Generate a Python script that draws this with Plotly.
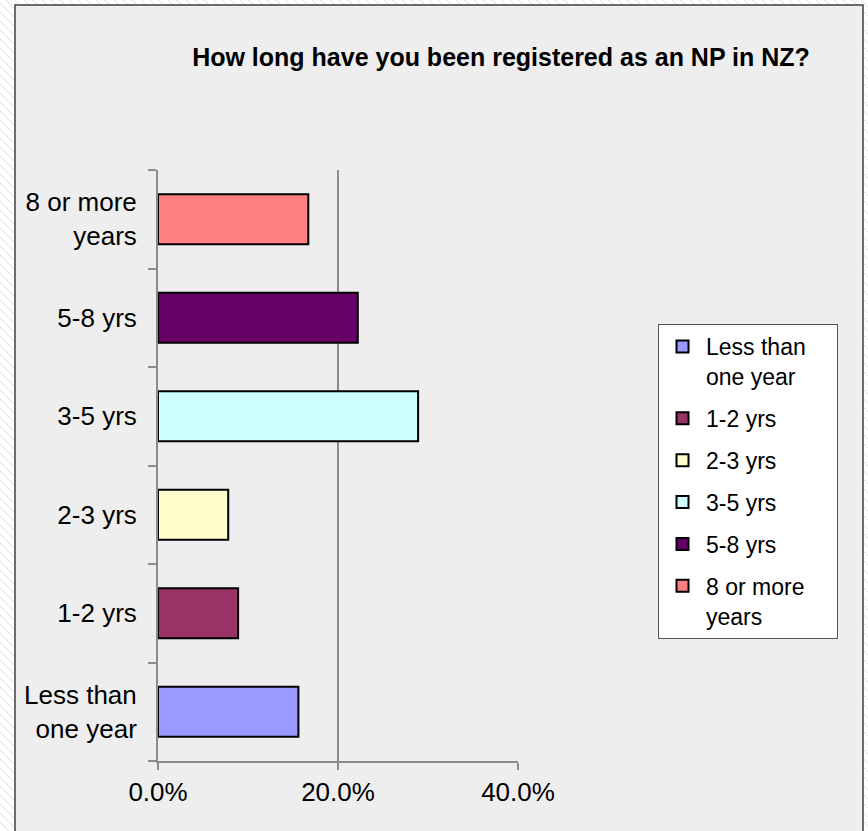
import plotly.graph_objects as go

# ---- data ----
categories = ["Less than<br>one year", "1-2 yrs", "2-3 yrs", "3-5 yrs", "5-8 yrs", "8 or more<br>years"]
legend_names = ["Less than\u00a0\u00a0\u00a0\u00a0<br>one year", "1-2 yrs", "2-3 yrs", "3-5 yrs", "5-8 yrs", "8 or more<br>years"]
percent_values = [15.6, 8.9, 7.8, 28.9, 22.2, 16.7]
bar_colors = ["#9999FF", "#993366", "#FFFFCC", "#CCFFFF", "#660066", "#FF8080"]
x_tick_vals = [0, 20, 40]
x_tick_text = ["0.0%", "20.0%", "40.0%"]
title_text = "How long have you been registered as an NP in NZ?"

W, H = 868, 831
L, R, T, B = 158, 350, 170, 70
pw, ph = W - L - R, H - T - B

def px_x(p):
    return (p - L) / pw

def px_y(p):
    return (H - B - p) / ph

fig = go.Figure()
for cat, name, val, col in zip(categories, legend_names, percent_values, bar_colors):
    fig.add_trace(go.Bar(
        x=[val], y=[cat], orientation="h", name=name, legendgroup=name,
        marker=dict(color=col, line=dict(color="black", width=2)),
        hoverinfo="x+y",
    ))

# decorative hatched background + frame
segs = []
step = 9
x = -H
while x < W + H:
    segs.append(f"M{px_x(x)},{px_y(0)} L{px_x(x + H)},{px_y(H)}")
    x += step
shapes = [
    dict(type="path", path=" ".join(segs), xref="paper", yref="paper",
         line=dict(color="#dcdcdc", width=1), layer="below"),
    dict(type="rect", xref="paper", yref="paper",
         x0=px_x(15), x1=px_x(863), y0=px_y(840), y1=px_y(5),
         fillcolor="#eeeeee", line=dict(color="#404040", width=1.5), layer="below"),
]

fig.update_layout(
    width=W, height=H,
    margin=dict(l=L, r=R, t=T, b=B),
    paper_bgcolor="white",
    plot_bgcolor="rgba(0,0,0,0)",
    barmode="overlay",
    bargap=0.49,
    font=dict(family="Liberation Sans, Arial, sans-serif", color="black", size=26),
    title=dict(text=title_text, x=px_x(501), xref="paper", xanchor="center",
               y=1 - 57 / H, yref="container", yanchor="middle",
               font=dict(size=25, color="black", family="Liberation Sans, Arial, sans-serif", weight="bold")),
    xaxis=dict(range=[0, 40], tickvals=x_tick_vals, ticktext=x_tick_text,
               showgrid=True, gridcolor="#8c8c8c", gridwidth=2, zeroline=False,
               showline=True, linecolor="#8c8c8c", linewidth=2,
               ticks="outside", ticklen=7, tickwidth=2, tickcolor="#8c8c8c",
               tickfont=dict(size=26), fixedrange=True),
    yaxis=dict(categoryorder="array", categoryarray=categories,
               showgrid=False, zeroline=False,
               showline=True, linecolor="#8c8c8c", linewidth=2,
               ticks="outside", ticklen=8, tickwidth=2, tickcolor="#8c8c8c",
               tickson="boundaries", ticklabelstandoff=14,
               tickfont=dict(size=26), fixedrange=True),
    legend=dict(x=px_x(658), y=px_y(324), xanchor="left", yanchor="top",
                xref="paper", yref="paper",
                bgcolor="white", bordercolor="#555555", borderwidth=1,
                font=dict(size=23, color="black"),
                traceorder="grouped", tracegroupgap=9, valign="top",
                itemwidth=37),
    shapes=shapes,
    showlegend=True,
)

fig.write_html(
    "out.html",
    config={"displayModeBar": False},
    post_script="document.body.style.margin='0';document.body.style.padding='0';",
)
